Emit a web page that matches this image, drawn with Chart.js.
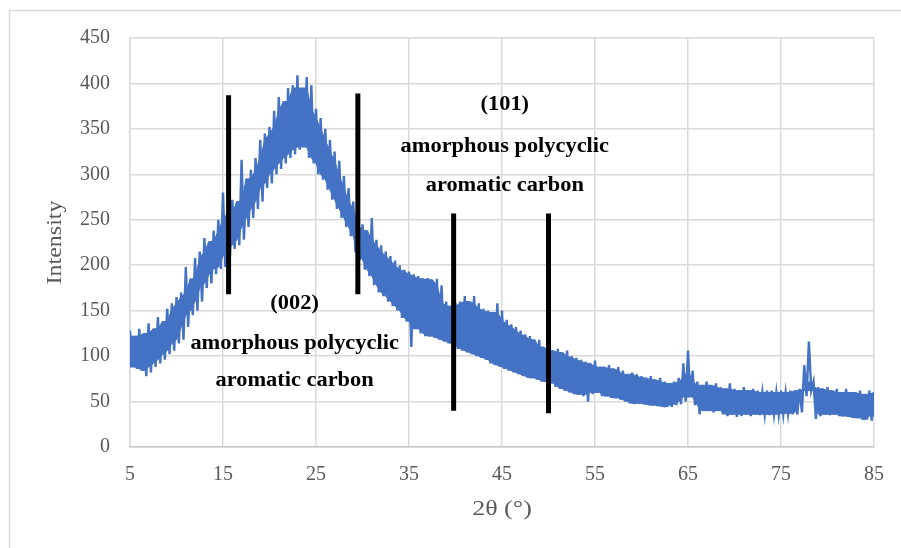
<!DOCTYPE html>
<html>
<head>
<meta charset="utf-8">
<script src="https://cdn.jsdelivr.net/npm/chart.js@4/dist/chart.umd.min.js"></script>
<style>
  html, body { margin: 0; padding: 0; background: #fff; }
  #wrap { width: 901px; height: 548px; }
</style>
</head>
<body>
<div id="wrap"><canvas id="xrd" width="901" height="548"></canvas></div>
<script>
// scan grid: 5° to 85° every 0.5°
const ANGLE_START = 5;
const ANGLE_STEP = 0.5;

// upper / lower edges of the noisy trace
const upperIntensity = [
  128, 122, 130, 125, 136, 130, 143, 138, 152, 158,
  165, 170, 198, 185, 208, 215, 230, 226, 238, 250,
  280, 258, 272, 270, 316, 295, 305, 318, 338, 345,
  352, 370, 385, 380, 395, 398, 409, 395, 407, 398,
  372, 362, 350, 338, 325, 315, 298, 285, 270, 262,
  245, 238, 252, 228, 222, 215, 210, 205, 200, 195,
  193, 190, 188, 185, 186, 184, 185, 178, 160, 155,
  158, 160, 166, 160, 166, 158, 152, 150, 148, 158,
  150, 140, 135, 132, 128, 124, 122, 118, 118, 110,
  110, 106, 108, 104, 106, 100, 98, 96, 94, 92,
  95, 88, 88, 90, 86, 88, 84, 80, 82, 80,
  78, 76, 78, 74, 76, 72, 70, 72, 76, 92,
  106, 84, 72, 68, 72, 68, 70, 66, 64, 70,
  64, 62, 66, 62, 64, 62, 60, 62, 62, 60,
  62, 60, 62, 62, 64, 90, 116, 72, 66, 64,
  66, 62, 64, 60, 64, 60, 60, 62, 58, 62,
  60
];
const lowerIntensity = [
  88, 86, 84, 78, 82, 88, 92, 96, 102, 106,
  114, 118, 132, 145, 150, 160, 175, 180, 190, 196,
  198, 210, 218, 222, 228, 242, 252, 262, 270, 285,
  290, 300, 306, 312, 318, 322, 327, 330, 318, 312,
  300, 294, 283, 272, 262, 252, 242, 232, 214, 206,
  195, 188, 178, 170, 166, 160, 155, 150, 142, 138,
  110, 130, 125, 122, 122, 120, 118, 116, 114, 112,
  108, 106, 104, 102, 100, 98, 96, 92, 90, 88,
  86, 84, 82, 80, 78, 76, 76, 74, 72, 72,
  70, 66, 64, 62, 60, 58, 58, 56, 50, 58,
  60, 56, 56, 54, 54, 52, 50, 48, 47, 48,
  47, 46, 46, 45, 44, 44, 44, 46, 47, 50,
  55, 46, 36, 40, 40, 38, 40, 36, 34, 36,
  33, 34, 36, 34, 36, 35, 36, 35, 36, 36,
  36, 37, 36, 36, 38, 56, 62, 31, 34, 36,
  35, 36, 34, 34, 33, 32, 32, 30, 30, 29,
  34
];

// black marker bars: [angle, bottom, top]
const markerBars = [
  [15.6, 168, 387],
  [29.5, 168, 389],
  [39.8, 40, 257],
  [50.0, 37, 257]
];

// peak labels: [angle, intensity, text]
const peakLabels = [
  [22.7, 158, '(002)'],
  [22.7, 114, 'amorphous polycyclic'],
  [22.7, 73, 'aromatic carbon'],
  [45.3, 376, '(101)'],
  [45.3, 330, 'amorphous polycyclic'],
  [45.3, 287, 'aromatic carbon']
];

const xTicks = [5, 15, 25, 35, 45, 55, 65, 75, 85];
const yTicks = [0, 50, 100, 150, 200, 250, 300, 350, 400, 450];

const BLUE = '#4472c4';
const GRID = '#d9d9d9';
const TICK_COLOR = '#595959';
const SERIF = '"Liberation Serif", "Times New Roman", serif';

const angles = upperIntensity.map((_, i) => ANGLE_START + i * ANGLE_STEP);

// the trace swings between the high and the low reading of each step
const tracePoints = [];
angles.forEach((a, i) => {
  tracePoints.push({ x: a, y: upperIntensity[i] });
  const next = i < angles.length - 1 ? a + ANGLE_STEP / 2 : a;
  tracePoints.push({ x: next, y: lowerIntensity[i] });
});

// solid core of the band: where neighbouring readings all overlap
const around = (arr, i) => [arr[i - 1], arr[i], arr[i + 1]].filter((v) => v !== undefined);
const coreTop = angles.map((a, i) => ({ x: a, y: Math.min(...around(upperIntensity, i)) }));
const coreBottom = angles.map((a, i) => ({ x: a, y: Math.max(...around(lowerIntensity, i)) }));

const datasets = [
  {
    label: 'Intensity',
    data: tracePoints,
    borderColor: BLUE,
    borderWidth: 2.4,
    pointRadius: 0,
    tension: 0,
    fill: false,
    order: 2
  },
  {
    label: 'core top',
    data: coreTop,
    borderColor: BLUE,
    backgroundColor: BLUE,
    borderWidth: 1,
    pointRadius: 0,
    tension: 0,
    fill: '+1',
    order: 3
  },
  {
    label: 'core bottom',
    data: coreBottom,
    borderColor: BLUE,
    backgroundColor: BLUE,
    borderWidth: 1,
    pointRadius: 0,
    tension: 0,
    fill: false,
    order: 3
  }
];

markerBars.forEach(([angle, bottom, top]) => {
  datasets.push({
    label: 'bar',
    data: [{ x: angle, y: bottom }, { x: angle, y: top }],
    borderColor: '#000',
    borderWidth: 5,
    borderCapStyle: 'butt',
    pointRadius: 0,
    fill: false,
    order: 0
  });
});

// text is a bit wider in the original, so stretch it horizontally
function stretchedText(ctx, text, x, y, sx) {
  ctx.save();
  ctx.translate(x, y);
  ctx.scale(sx, 1);
  ctx.fillText(text, 0, 0);
  ctx.restore();
}

const decorations = {
  id: 'decorations',
  beforeDraw(chart) {
    const ctx = chart.ctx;
    ctx.save();
    ctx.fillStyle = '#fff';
    ctx.fillRect(0, 0, chart.width, chart.height);
    ctx.strokeStyle = '#d9d9d9';
    ctx.lineWidth = 1.5;
    ctx.strokeRect(9.5, 10.5, 1000, 1000);
    ctx.restore();
  },
  afterDraw(chart) {
    const ctx = chart.ctx;
    const xs = chart.scales.x;
    const ys = chart.scales.y;
    const area = chart.chartArea;
    ctx.save();
    ctx.fillStyle = '#000';
    ctx.font = 'bold 20px ' + SERIF;
    ctx.textAlign = 'center';
    ctx.textBaseline = 'middle';
    peakLabels.forEach(([angle, intensity, text]) => {
      stretchedText(ctx, text, xs.getPixelForValue(angle), ys.getPixelForValue(intensity), 1.12);
    });

    ctx.fillStyle = TICK_COLOR;
    ctx.font = '22px ' + SERIF;
    stretchedText(ctx, '2θ (°)', (area.left + area.right) / 2, 509, 1.18);
    ctx.translate(56, (area.top + area.bottom) / 2);
    ctx.rotate(-Math.PI / 2);
    ctx.font = '20px ' + SERIF;
    stretchedText(ctx, 'Intensity', 0, 0, 1.2);
    ctx.restore();
  }
};

new Chart(document.getElementById('xrd'), {
  type: 'line',
  data: { datasets },
  plugins: [decorations],
  options: {
    responsive: false,
    animation: false,
    layout: { padding: { top: 38, right: 27, left: 0, bottom: 0 } },
    plugins: {
      legend: { display: false },
      tooltip: { enabled: false }
    },
    scales: {
      x: {
        type: 'linear',
        min: 5,
        max: 85,
        afterBuildTicks: (scale) => { scale.ticks = xTicks.map((v) => ({ value: v })); },
        afterFit: (scale) => { scale.height = 101; },
        grid: { color: GRID, lineWidth: 1.5, drawTicks: false },
        border: { color: '#c8c8c8', width: 1.5 },
        ticks: {
          color: TICK_COLOR,
          font: { family: SERIF, size: 20 },
          padding: 16,
          maxRotation: 0
        }
      },
      y: {
        min: 0,
        max: 450,
        afterBuildTicks: (scale) => { scale.ticks = yTicks.map((v) => ({ value: v })); },
        afterFit: (scale) => { scale.width = 130; },
        grid: { color: GRID, lineWidth: 1.5, drawTicks: false },
        border: { color: GRID, width: 1.5 },
        ticks: {
          color: TICK_COLOR,
          font: { family: SERIF, size: 20 },
          padding: 20
        }
      }
    }
  }
});
</script>
</body>
</html>
